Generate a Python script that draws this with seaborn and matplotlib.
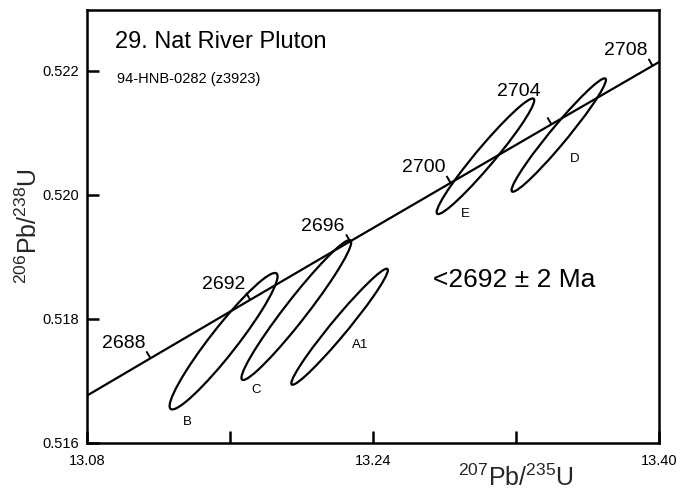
import numpy as np
import pandas as pd
import matplotlib
matplotlib.use("Agg")
import matplotlib.pyplot as plt
from matplotlib.patches import Ellipse
import seaborn as sns

# Zircon fractions: isotope ratios, 2-sigma half-widths and error correlation
fractions = ["A1", "B", "C", "D", "E"]
pb207_u235 = [13.2213, 13.1564, 13.1971, 13.3439, 13.3029]
pb207_u235_err = [0.0270, 0.0302, 0.0307, 0.0264, 0.0273]
pb206_u238 = [0.517874, 0.517641, 0.518143, 0.520964, 0.520622]
pb206_u238_err = [0.000935, 0.001100, 0.001128, 0.000914, 0.000932]
err_corr = [0.975, 0.950, 0.968, 0.972, 0.968]

# Concordia points (age in Ma)
concordia_age = [2684, 2688, 2692, 2696, 2700, 2704, 2708, 2712]
concordia_207_235 = [13.0600, 13.1155, 13.1713, 13.2272, 13.2834, 13.3398, 13.3964, 13.4532]
concordia_206_238 = [0.516425, 0.517366, 0.518308, 0.519250, 0.520193, 0.521137, 0.522081, 0.523026]
age_marks = [2688, 2692, 2696, 2700, 2704, 2708]

x_ticks = [13.08, 13.16, 13.24, 13.32, 13.40]
x_tick_labels = ["13.08", "", "13.24", "", "13.40"]
y_ticks = [0.516, 0.518, 0.520, 0.522]
y_tick_labels = ["0.516", "0.518", "0.520", "0.522"]

title = "29. Nat River Pluton"
sample = "94-HNB-0282 (z3923)"
age_result = "<2692 \u00b1 2 Ma"
x_label = r"$^{207}$Pb/$^{235}$U"
y_label = r"$^{206}$Pb/$^{238}$U"

# label offsets in pixels (right, up)
label_offsets = {"A1": (21, -18), "B": (-36, -81), "C": (-40, -80),
                 "D": (16, -24), "E": (-20, -58)}
age_label_offsets = {2704: (-33, 33)}
default_age_offset = (-27, 15)

sns.set_theme(style="ticks")
plt.rcParams.update({
    "font.family": ["Liberation Sans", "DejaVu Sans"],
    "mathtext.default": "regular",
    "axes.edgecolor": "black",
    "axes.linewidth": 1.8,
    "xtick.color": "black",
    "ytick.color": "black",
    "text.color": "black",
})

fig = plt.figure(figsize=(6.82, 4.92), dpi=100)
ax = fig.add_axes([0.1276, 0.0996, 0.8387, 0.8801])
ax.set_xlim(13.08, 13.40)
ax.set_ylim(0.516, 0.52298)

# concordia curve
conc = pd.DataFrame({"age": concordia_age, "x": concordia_207_235, "y": concordia_206_238})
sns.lineplot(data=conc, x="x", y="y", sort=False, estimator=None,
             color="black", lw=1.6, ax=ax)

# error ellipses
for name, cx, sx, cy, sy, r in zip(fractions, pb207_u235, pb207_u235_err,
                                   pb206_u238, pb206_u238_err, err_corr):
    cov = np.array([[sx * sx, r * sx * sy], [r * sx * sy, sy * sy]])
    vals, vecs = np.linalg.eigh(cov)
    angle = np.degrees(np.arctan2(vecs[1, 1], vecs[0, 1]))
    ax.add_patch(Ellipse((cx, cy), 2 * np.sqrt(vals[1]), 2 * np.sqrt(vals[0]),
                         angle=angle, fill=False, ec="black", lw=1.6, zorder=3))
    dx, dy = label_offsets[name]
    ax.annotate(name, (cx, cy), xytext=(dx, dy), textcoords="offset pixels",
                ha="center", va="center", fontsize=9.5)

# age marks on the concordia
fig.canvas.draw()
to_disp = ax.transData
to_data = ax.transData.inverted()
for age in age_marks:
    i = concordia_age.index(age)
    p = to_disp.transform((concordia_207_235[i], concordia_206_238[i]))
    p0 = to_disp.transform((concordia_207_235[i - 1], concordia_206_238[i - 1]))
    p1 = to_disp.transform((concordia_207_235[i + 1], concordia_206_238[i + 1]))
    d = (p1 - p0) / np.hypot(*(p1 - p0))
    n = np.array([-d[1], d[0]])
    q = to_data.transform(p + 8 * n)
    ax.plot([concordia_207_235[i], q[0]], [concordia_206_238[i], q[1]],
            color="black", lw=1.4, solid_capstyle="butt", clip_on=False)
    ax.annotate(str(age), (concordia_207_235[i], concordia_206_238[i]),
                xytext=age_label_offsets.get(age, default_age_offset),
                textcoords="offset pixels", ha="center", va="center", fontsize=14)

ax.set_xticks(x_ticks)
ax.set_xticklabels(x_tick_labels)
ax.set_yticks(y_ticks)
ax.set_yticklabels(y_tick_labels)
ax.tick_params(axis="both", direction="in", length=8.5, width=1.8, labelsize=10.5)
ax.tick_params(axis="x", pad=8)
ax.tick_params(axis="y", pad=6)
for s in ax.spines.values():
    s.set_visible(True)
    s.set_linewidth(1.8)

ax.set_xlabel(x_label, fontsize=18)
ax.set_ylabel(y_label, fontsize=18)
ax.xaxis.set_label_coords(0.75, -0.05)
ax.yaxis.set_label_coords(-0.078, 0.5)

ax.text(0.049, 0.912, title, transform=ax.transAxes, fontsize=17, va="baseline")
ax.text(0.053, 0.831, sample, transform=ax.transAxes, fontsize=10.5, va="baseline")
ax.text(0.605, 0.360, age_result, transform=ax.transAxes, fontsize=19, va="baseline")

fig.savefig("out.png", dpi=100)
